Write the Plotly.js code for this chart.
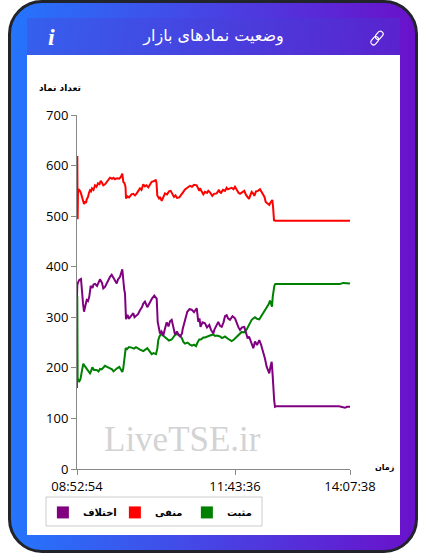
<!DOCTYPE html>
<html><head><meta charset="utf-8">
<script src="https://cdn.plot.ly/plotly-3.0.1.min.js"></script>
<style>
html,body{margin:0;padding:0;background:#fff;width:427px;height:554px;overflow:hidden}
#card{position:absolute;left:8px;top:0;width:404px;height:547px;border:3px solid #22242c;border-radius:34px;background:linear-gradient(90deg,#2575fc,#6a11cb)}
#head{position:absolute;left:27px;top:18px;width:373px;height:37px;background:linear-gradient(100deg,#3560ee,#5a22cf)}
#panel{position:absolute;left:27px;top:55px;width:373px;height:480px;background:#fff}
#chart{position:absolute;left:0;top:0;width:427px;height:554px}
#link{position:absolute;left:369px;top:30px}
</style></head><body>
<div id="card"></div><div id="head"></div><div id="panel"></div>
<svg id="link" width="16" height="16" viewBox="0 0 16 16" fill="none" stroke="#fff" stroke-width="1.2">
<rect x="7.5" y="0.8" width="5.5" height="9" rx="2.7" transform="rotate(40 10.2 5.3)"/>
<rect x="3" y="6.2" width="5.5" height="9" rx="2.7" transform="rotate(40 5.7 10.7)"/>
</svg>
<div id="chart"></div>
<script>
var titleText = 'وضعیت نمادهای بازار';
var yLabel = 'تعداد نماد';
var xLabel = 'زمان';
var watermark = 'LiveTSE.ir';
var nameGreen = 'مثبت', nameRed = 'منفی', namePurple = 'اختلاف';
var tickPos = [0, 158, 273];
var tickLabels = ['08:52:54', '11:43:36', '14:07:38'];

var redX = [0,0.3,0.6,1,2,3,4,4.7,6,7,8,9,9.7,11,12,13,14,15,16.5,18,19.5,21,22.5,23.7,25,26.3,28,29.7,31,33,35,36.5,38,40,42.3,44,45.3,46.3,47.5,48.5,49,50.5,52,53,54.5,56.3,58,59.7,61,63,64.5,66.3,68,69.5,71.3,73,74.7,76.5,78.7,79.5,80.3,82,83,84.7,86,88,90,92,93.7,95,97,98.5,100,102.3,104,106,108,110,113,115,117,119.7,121,122.3,123,124.5,126.3,128,130,131.3,133,135.3,137,139.7,141,142,143,144,146,148,149.7,151,153,154.7,156.5,158,160,161.5,163,165,167.3,169,171,172,173.5,174.7,176,177.3,179,181,183,184.5,186.3,187.5,188.7,190.5,192.3,193.5,195.3,196,197,198.3,260,266,268,270,273];
var redY = [560,619,494,548,552,550,545,541,530,524,529,526,533,538,546,551,549,555,552,561,558,565,563,570,566,561,563,568,571,576,574,576,573,575,574,578,584,568,565,558,535,539,537,540,543,544,541,545,550,555,552,563,559,561,557,562,568,569,571,566,541,535,538,530,536,545,543,549,550,544,538,541,536,537,541,547,553,556,560,558,562,561,556,550,555,548,543,548,546,550,547,540,544,545,550,552,547,546,552,550,556,553,555,556,553,558,551,546,544,547,550,542,536,534,542,548,545,540,549,550,553,548,541,538,528,525,522,527,532,520,492,491,491,491,490,491,491];

var greenX = [0,0.3,0.6,2,3.5,5,6.3,8,9.7,11,13,14,15.3,17,19.7,21.5,23,24.7,26.5,28,30,33,35,36.5,38,40,42.3,44,45.3,46.2,47,48,48.7,50,52,54.7,57,59,61.3,63,66.3,68,70.3,72.5,74.7,76.5,79,80.3,81.3,82.5,84,86,87.5,89.7,92,94.7,96.5,98,100,103,105,106.5,108,110.5,113,115,117,119,120.5,122.3,124,126.3,128,130,133,136.3,138,140,143,145,148,150.5,152.5,154.7,157,159.7,162,164.7,167,169.7,171.5,173,174.7,176.5,178,180,182.3,184.5,186.3,188,189.7,191.5,193,194.2,195,195.7,196.3,197.3,198.3,260,263,266.3,269,273];
var greenY = [160,341,180,172,178,195,208,203,199,195,189,193,201,196,196,193,198,197,201,204,202,199,197,193,196,199,202,197,192,198,212,228,239,237,241,240,238,241,239,236,233,236,239,233,227,229,227,238,255,262,267,264,261,258,254,256,261,265,267,265,258,251,248,250,246,244,246,243,250,256,256,260,260,262,264,266,263,264,262,259,262,258,255,253,256,262,266,271,270,276,283,290,295,298,300,297,296,303,308,313,318,325,333,327,321,340,354,362,366,366,366,368,367,367];

var purpleX = [0,0.3,1.3,2.3,4,5,6,7,8.3,9.7,11,12.3,13.7,15.5,16.5,18,20,21.5,23,25,26.3,28,29.7,31.5,33,34.7,36.5,38,39.7,41,43,45.3,46.3,47.2,48,49,50.5,52,53,55,56.3,57.5,59,61,63,65,66.3,68,70.3,71.5,73,75,77.3,78.8,79.7,80.7,82,83,84.5,86.3,88,89.7,91.5,93,94.7,96,98,100,101.5,103,105,105.7,107.5,109,110.3,112.5,114.7,117,119.7,120.5,121.3,122.5,123.5,125.5,128,130,132.3,134,136.3,137.5,138.7,140,141.3,143,144.7,146.5,148,149.7,151,153,155.5,158,160,161.5,163,165,167.3,169,170.7,172,173,175,176.3,177,178,180,182.3,184,186.3,188,189.7,191,192.3,193.5,194.7,195.5,196.3,197.2,198,199,262,265,268,270,273];
var purpleY = [340,364,370,374,376,347,328,311,322,334,332,341,362,358,365,366,362,370,375,368,357,360,367,372,380,384,378,372,367,375,380,395,364,355,347,296,305,297,300,305,308,300,302,306,314,320,327,331,320,325,330,337,343,340,337,291,275,268,272,264,278,290,282,292,295,282,266,272,265,262,268,277,290,303,311,316,315,310,318,305,291,298,281,290,288,280,285,275,268,276,281,286,291,283,281,290,302,304,298,295,302,298,285,280,275,280,281,270,258,262,255,246,239,247,252,245,255,246,232,218,202,195,189,203,212,190,156,135,123,124,124,123,121,123,123];

var swatch = function (name, color) {
  return {x:[null], y:[null], type:'scatter', mode:'markers', name:name,
    marker:{symbol:'square', size:10, color:color}, showlegend:true, hoverinfo:'skip'};
};
var line = function (xs, ys, color) {
  return {x:xs, y:ys, type:'scatter', mode:'lines', showlegend:false,
    line:{color:color, width:2}};
};
var data = [
  line(greenX, greenY, '#008000'),
  line(redX, redY, '#ff0000'),
  line(purpleX, purpleY, '#800080'),
  swatch(namePurple, '#800080'),
  swatch(nameRed, '#ff0000'),
  swatch(nameGreen, '#008000')
];
var axisBase = {showgrid:false, zeroline:false, showline:true, linecolor:'#888', linewidth:1,
  ticks:'outside', tickcolor:'#888', ticklen:5, fixedrange:true,
  tickfont:{family:'"Open Sans",sans-serif', size:13, color:'#000'}};
var layout = {
  width:427, height:554,
  margin:{l:77, r:77, t:115, b:85, pad:0, autoexpand:false},
  paper_bgcolor:'rgba(0,0,0,0)', plot_bgcolor:'rgba(0,0,0,0)',
  title:{text:titleText, font:{family:'"DejaVu Sans",sans-serif', size:16, color:'#fff'},
    x:0.5, xanchor:'center', xref:'paper', y:0.9365, yanchor:'middle', yref:'container'},
  font:{family:'"DejaVu Sans",sans-serif'},
  xaxis:Object.assign({}, axisBase, {range:[0,273], tickmode:'array', tickvals:tickPos, ticktext:tickLabels, tickangle:0}),
  yaxis:Object.assign({}, axisBase, {range:[0,700], tickmode:'array', tickvals:[0,100,200,300,400,500,600,700]}),
  showlegend:true,
  legend:{orientation:'h', x:-0.125, xanchor:'left', y:-0.0817, yanchor:'top', entrywidth:27, entrywidthmode:'pixels',
    borderwidth:0, bgcolor:'rgba(0,0,0,0)', itemsizing:'constant',
    font:{family:'"DejaVu Sans",sans-serif', size:10, color:'#000', weight:'bold'}},
  shapes:[
    {type:'rect', xref:'paper', yref:'paper', x0:-0.1136, x1:0.6777, y0:-0.0791, y1:-0.161, line:{color:'#ccc', width:1}, layer:'below'}
  ],
  annotations:[
    {xref:'paper', yref:'paper', x:0, xanchor:'right', xshift:6, y:1.075, yanchor:'middle', text:'<b>'+yLabel+'</b>', showarrow:false,
      font:{family:'"DejaVu Sans",sans-serif', size:9, color:'#000'}},
    {xref:'paper', yref:'paper', x:1.172, xanchor:'right', y:0.003, yanchor:'middle', text:'<b>'+xLabel+'</b>', showarrow:false,
      font:{family:'"DejaVu Sans",sans-serif', size:8, color:'#000'}},
    {xref:'paper', yref:'paper', x:0.385, xanchor:'center', y:0.082, yanchor:'middle', text:watermark, showarrow:false,
      font:{family:'"Liberation Serif",serif', size:35, color:'#d3d3d3'}},
    {xref:'paper', yref:'paper', x:-0.095, xanchor:'center', y:1.22, yanchor:'middle', text:'<b><i>i</i></b>', showarrow:false,
      font:{family:'"Liberation Serif",serif', size:24, color:'#fff'}}
  ]
};
Plotly.newPlot('chart', data, layout, {displayModeBar:false, staticPlot:true});
</script>
</body></html>
